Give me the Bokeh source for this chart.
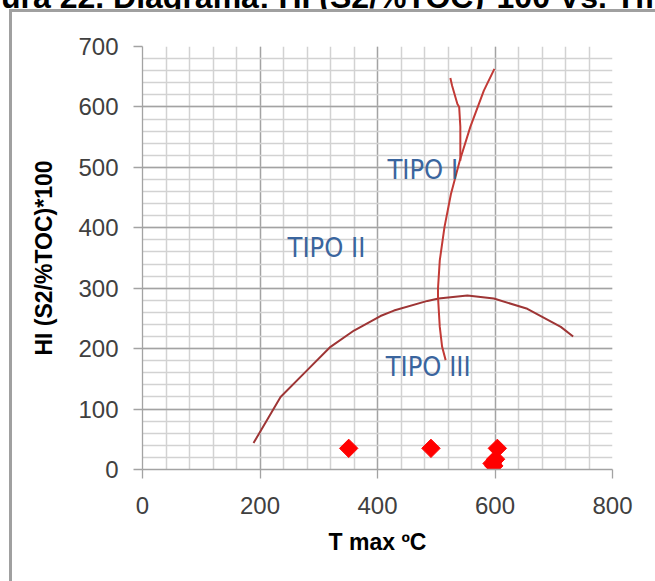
import numpy as np
from bokeh.plotting import figure
from bokeh.layouts import column
from bokeh.models import FixedTicker, Range1d, Div
from bokeh.core.properties import value
from bokeh.embed import file_html
from bokeh.resources import INLINE

# ---- data ----
x_ticks = [0, 200, 400, 600, 800]
y_ticks = [0, 100, 200, 300, 400, 500, 600, 700]

sample_tmax = [351, 491, 604, 601, 595, 598]
sample_hi = [35, 35, 35, 17, 10, 6]

# Type II / Type III boundary (arc)
arc_x = [189, 212, 235, 280, 320, 360, 405, 428, 485, 504, 553, 598, 655, 712, 733]
arc_y = [44, 82, 120, 164, 203, 230, 254, 263, 279, 283, 288, 283, 266, 236, 220]

# Type I / Type II boundary (tall curve)
curve_x = [516, 510, 506, 503, 503, 506, 514, 525, 540, 558, 581, 599]
curve_y = [181, 203, 236, 285, 300, 346, 401, 456, 511, 567, 627, 663]

# small hook at the top
hook_x = [524, 527, 536, 539, 541, 541, 541]
hook_y = [648, 635, 605, 600, 567, 539, 511]

region_text = ["TIPO I", "TIPO II", "TIPO III"]
region_x = [417, 247, 414]
region_y = [497, 368, 170]

title_text = "Figura 22. Diagrama: HI (S2/%TOC)*100 Vs. Tmax"

# ---- clipped title strip at the very top ----
title_div = Div(
    text=('<div style="height:12px;overflow:hidden;width:655px;">'
          '<div style="margin-top:-21px;margin-left:-47px;white-space:nowrap;'
          "font-family:'Liberation Sans',Arial,sans-serif;font-weight:bold;"
          'font-size:32px;line-height:36px;color:black;">'
          + title_text + '</div></div>'),
    width=655, height=12, margin=(0, 0, 0, 0), styles={"overflow": "hidden"})

# ---- figure ----
p = figure(frame_width=470, frame_height=423,
           x_range=Range1d(0, 800), y_range=Range1d(0, 700),
           min_border_left=130, min_border_right=43,
           min_border_top=34, min_border_bottom=112,
           output_backend="svg", toolbar_location=None)
p.margin = (0, 0, 0, 12)
p.styles = {"outline": "3px solid #A0A0A0"}
p.outline_line_color = None
p.background_fill_color = "white"
p.border_fill_color = "white"

p.xaxis.ticker = FixedTicker(ticks=x_ticks, minor_ticks=list(range(0, 801, 40)))
p.yaxis.ticker = FixedTicker(ticks=y_ticks, minor_ticks=list(range(0, 701, 20)))
p.xgrid.ticker = FixedTicker(ticks=x_ticks, minor_ticks=list(range(0, 801, 40)))
p.ygrid.ticker = FixedTicker(ticks=y_ticks, minor_ticks=list(range(0, 701, 20)))

for g in (p.xgrid, p.ygrid):
    g.grid_line_color = "#A3A3A3"
    g.grid_line_width = 1.3
    g.minor_grid_line_color = "#D2D2D2"
    g.minor_grid_line_width = 1.5

for ax in (p.xaxis, p.yaxis):
    ax.axis_line_color = "#A3A3A3"
    ax.axis_line_width = 1.3
    ax.major_tick_line_color = "#A3A3A3"
    ax.major_tick_line_width = 1.3
    ax.major_tick_out = 9
    ax.major_tick_in = 0
    ax.minor_tick_line_color = None
    ax.major_label_text_font = "Liberation Sans"
    ax.major_label_text_font_size = "24px"
    ax.major_label_text_color = "#404040"
    ax.axis_label_text_font = "Liberation Sans"
    ax.axis_label_text_font_size = "23px"
    ax.axis_label_text_font_style = "bold"
    ax.axis_label_text_color = "black"

p.xaxis.axis_label = "T max ºC"
p.yaxis.axis_label = "HI (S2/%TOC)*100"
p.xaxis.major_label_standoff = 18
p.yaxis.major_label_standoff = 15
p.xaxis.axis_label_standoff = 12
p.yaxis.axis_label_standoff = 18

# boundary curves
p.line(arc_x, arc_y, line_color="#9E3535", line_width=2)
p.line(curve_x, curve_y, line_color="#C23A36", line_width=2)
p.line(hook_x, hook_y, line_color="#C23A36", line_width=2)

# samples
p.scatter(sample_tmax, sample_hi, marker="square", angle=np.pi / 4, size=13,
          fill_color="#FF0000", line_color="#FF0000")

# region labels
p.text(region_x, region_y, text=region_text,
       text_font=value("Liberation Sans Narrow, DejaVu Sans Condensed, Roboto, sans-serif"),
       text_font_size="27px",
       text_color="#3A659E", text_baseline="middle", text_align="left")

layout = column(title_div, p, spacing=0)
open("out.html", "w").write(file_html(layout, INLINE))
